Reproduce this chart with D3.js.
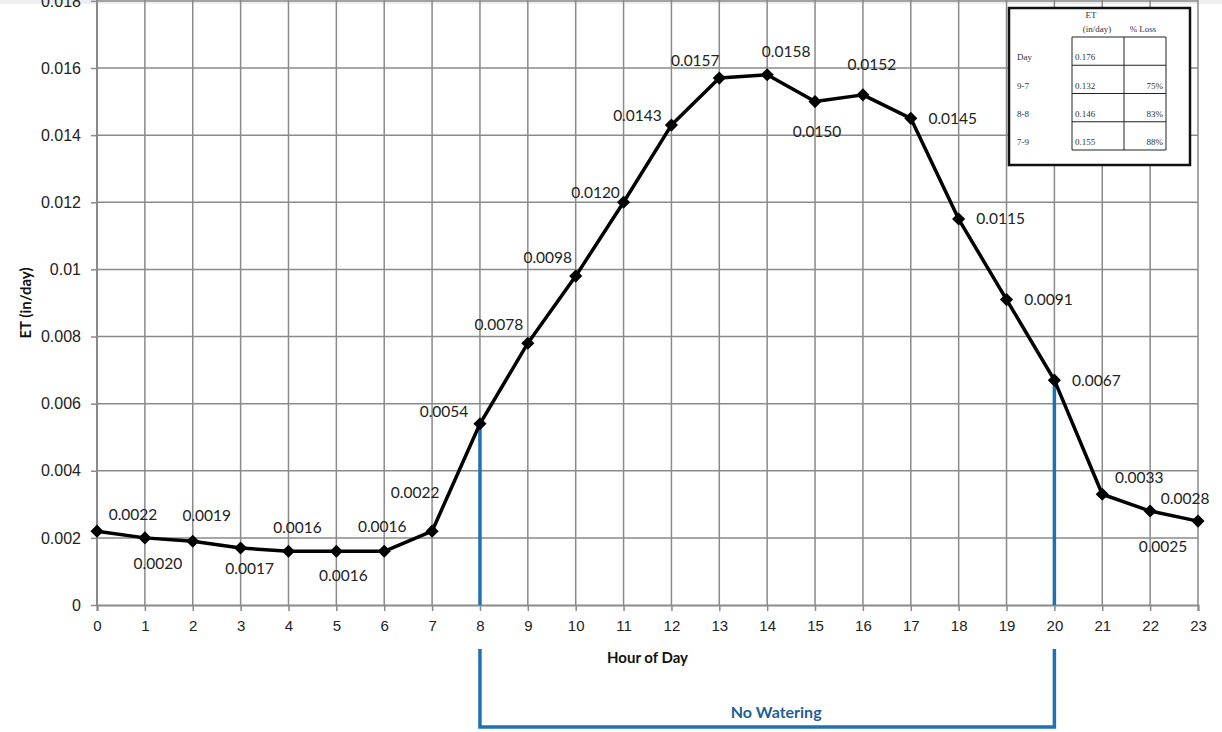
<!DOCTYPE html>
<html>
<head>
<meta charset="utf-8">
<script src="https://cdn.jsdelivr.net/npm/d3@7"></script>
<style>
  body { margin: 0; background: #fff; }
  svg { display: block; font-family: Lato, "Open Sans", sans-serif; }
</style>
</head>
<body>
<svg></svg>
<script>
const hours = d3.range(0, 24);
const et = [0.0022, 0.0020, 0.0019, 0.0017, 0.0016, 0.0016, 0.0016, 0.0022,
  0.0054, 0.0078, 0.0098, 0.0120, 0.0143, 0.0157, 0.0158, 0.0150,
  0.0152, 0.0145, 0.0115, 0.0091, 0.0067, 0.0033, 0.0028, 0.0025];
const yTicks = [0, 0.002, 0.004, 0.006, 0.008, 0.01, 0.012, 0.014, 0.016, 0.018];
const yTickLabels = ["0", "0.002", "0.004", "0.006", "0.008", "0.01", "0.012", "0.014", "0.016", "0.018"];
const noWatering = [8, 20];

const insetRows = ["Day", "9-7", "8-8", "7-9"];
const insetET = ["0.176", "0.132", "0.146", "0.155"];
const insetLoss = ["", "75%", "83%", "88%"];

// where each data label sits relative to its point
const labelOffset = [[36, -17], [13, 26], [14, -26], [9, 21], [9, -24], [7, 24], [-2, -25], [-17, -39],
  [-36, -12], [-29, -19], [-28, -19], [-28, -10], [-34, -10], [-24, -18], [19, -23], [2, 30],
  [9, -30], [42, 0], [42, 0], [42, 0], [42, 0], [37, -17], [35, -12], [-35, 25]];

const width = 1222;
const height = 732;
const svg = d3.select("svg").attr("width", width).attr("height", height);

const x = d3.scaleLinear().domain([0, 23]).range([97, 1198]);
const y = d3.scaleLinear().domain([0, 0.018]).range([605, 0.9]);

svg.append("rect").attr("x", 0).attr("y", 0).attr("width", width).attr("height", 4).attr("fill", "#eeeeee");

const gridColor = "#8a8a8a";

// vertical grid + x axis
const xAxis = svg.append("g")
  .attr("transform", `translate(0,${y(0)})`)
  .call(d3.axisBottom(x).tickValues(hours).tickSize(6).tickPadding(9).tickFormat(d3.format("d")));
xAxis.select(".domain").attr("stroke", gridColor).attr("stroke-width", 2);
xAxis.selectAll(".tick line").attr("stroke", gridColor).attr("stroke-width", 1.5);
xAxis.selectAll(".tick text").attr("font-size", 15).attr("fill", "#222");

svg.append("g")
  .selectAll("line")
  .data(hours)
  .join("line")
  .attr("x1", (d) => x(d)).attr("x2", (d) => x(d))
  .attr("y1", 0).attr("y2", y(0))
  .attr("stroke", gridColor).attr("stroke-width", 1.5);

// horizontal grid + y axis
const yAxis = svg.append("g")
  .attr("transform", `translate(${x(0)},0)`)
  .call(d3.axisLeft(y).tickValues(yTicks).tickSize(6).tickPadding(10)
    .tickFormat((d, i) => yTickLabels[i]));
yAxis.select(".domain").remove();
yAxis.selectAll(".tick line").attr("stroke", gridColor).attr("stroke-width", 1.5);
yAxis.selectAll(".tick text").attr("font-size", 16).attr("fill", "#222");

svg.append("g")
  .selectAll("line")
  .data(yTicks.slice(1))
  .join("line")
  .attr("x1", x(0)).attr("x2", x(23))
  .attr("y1", (d) => y(d)).attr("y2", (d) => y(d))
  .attr("stroke", gridColor).attr("stroke-width", 1.5);

svg.append("line")
  .attr("x1", x(0)).attr("x2", x(0)).attr("y1", 0).attr("y2", y(0))
  .attr("stroke", gridColor).attr("stroke-width", 2);

// axis titles
svg.append("text")
  .attr("x", (x(0) + x(23)) / 2).attr("y", 663)
  .attr("text-anchor", "middle").attr("font-size", 15).attr("font-weight", "bold").attr("fill", "#111")
  .text("Hour of Day");

svg.append("text")
  .attr("transform", `translate(31,${y(0.009)}) rotate(-90)`)
  .attr("text-anchor", "middle").attr("font-size", 15).attr("font-weight", "bold").attr("fill", "#111")
  .text("ET (in/day)");

// no watering bracket
const blue = "#1f70b5";
svg.append("g")
  .selectAll("line")
  .data(noWatering)
  .join("line")
  .attr("x1", (d) => x(d)).attr("x2", (d) => x(d))
  .attr("y1", (d) => y(et[d])).attr("y2", y(0))
  .attr("stroke", blue).attr("stroke-width", 3.5);

svg.append("path")
  .attr("d", d3.line()([[x(noWatering[0]), 649], [x(noWatering[0]), 727], [x(noWatering[1]), 727], [x(noWatering[1]), 649]]))
  .attr("fill", "none").attr("stroke", blue).attr("stroke-width", 3.5);

svg.append("text")
  .attr("x", (x(noWatering[0]) + x(noWatering[1])) / 2 + 9).attr("y", 718)
  .attr("text-anchor", "middle").attr("font-size", 16).attr("font-weight", "bold").attr("fill", "#1f5f98")
  .text("No Watering");

// ET line
svg.append("path")
  .datum(et)
  .attr("d", d3.line().x((d, i) => x(i)).y((d) => y(d)))
  .attr("fill", "none").attr("stroke", "#000").attr("stroke-width", 3.5).attr("stroke-linejoin", "round");

svg.append("g")
  .selectAll("path")
  .data(et)
  .join("path")
  .attr("transform", (d, i) => `translate(${x(i)},${y(d)})`)
  .attr("d", d3.symbol(d3.symbolDiamond2, 110))
  .attr("fill", "#000");

svg.append("g")
  .selectAll("text")
  .data(et)
  .join("text")
  .attr("x", (d, i) => x(i) + labelOffset[i][0])
  .attr("y", (d, i) => y(d) + labelOffset[i][1])
  .attr("dy", "0.35em")
  .attr("text-anchor", "middle").attr("font-size", 15.5).attr("fill", "#222")
  .text((d) => d3.format(".4f")(d));

// inset table
const inset = svg.append("g").attr("font-family", "'Liberation Serif', serif").attr("font-size", 9).attr("fill", "#333");
inset.append("rect").attr("x", 1009).attr("y", 8).attr("width", 181).attr("height", 157)
  .attr("fill", "#fff").attr("stroke", "#111").attr("stroke-width", 2.5);

const rowY = d3.scaleLinear().domain([0, insetRows.length]).range([37, 150]);
const colX = [1072, 1124, 1166];

inset.append("g")
  .selectAll("line")
  .data(d3.range(insetRows.length + 1))
  .join("line")
  .attr("x1", colX[0]).attr("x2", colX[2])
  .attr("y1", (d) => rowY(d)).attr("y2", (d) => rowY(d))
  .attr("stroke", "#222").attr("stroke-width", 1);
inset.append("g")
  .selectAll("line")
  .data(colX)
  .join("line")
  .attr("x1", (d) => d).attr("x2", (d) => d)
  .attr("y1", rowY(0)).attr("y2", rowY(insetRows.length))
  .attr("stroke", "#222").attr("stroke-width", 1);

inset.append("text").attr("x", 1091).attr("y", 18).attr("text-anchor", "middle").text("ET");
inset.append("text").attr("x", 1097).attr("y", 32).attr("text-anchor", "middle").text("(in/day)");
inset.append("text").attr("x", 1143).attr("y", 32).attr("text-anchor", "middle").text("% Loss");

inset.selectAll(".rowlab").data(insetRows).join("text")
  .attr("x", 1017).attr("y", (d, i) => rowY(i + 1) - 5).text((d) => d);
inset.selectAll(".etval").data(insetET).join("text")
  .attr("x", 1075).attr("y", (d, i) => rowY(i + 1) - 5).text((d) => d);
inset.selectAll(".loss").data(insetLoss).join("text")
  .attr("x", 1163).attr("y", (d, i) => rowY(i + 1) - 5).attr("text-anchor", "end").text((d) => d);
</script>
</body>
</html>
